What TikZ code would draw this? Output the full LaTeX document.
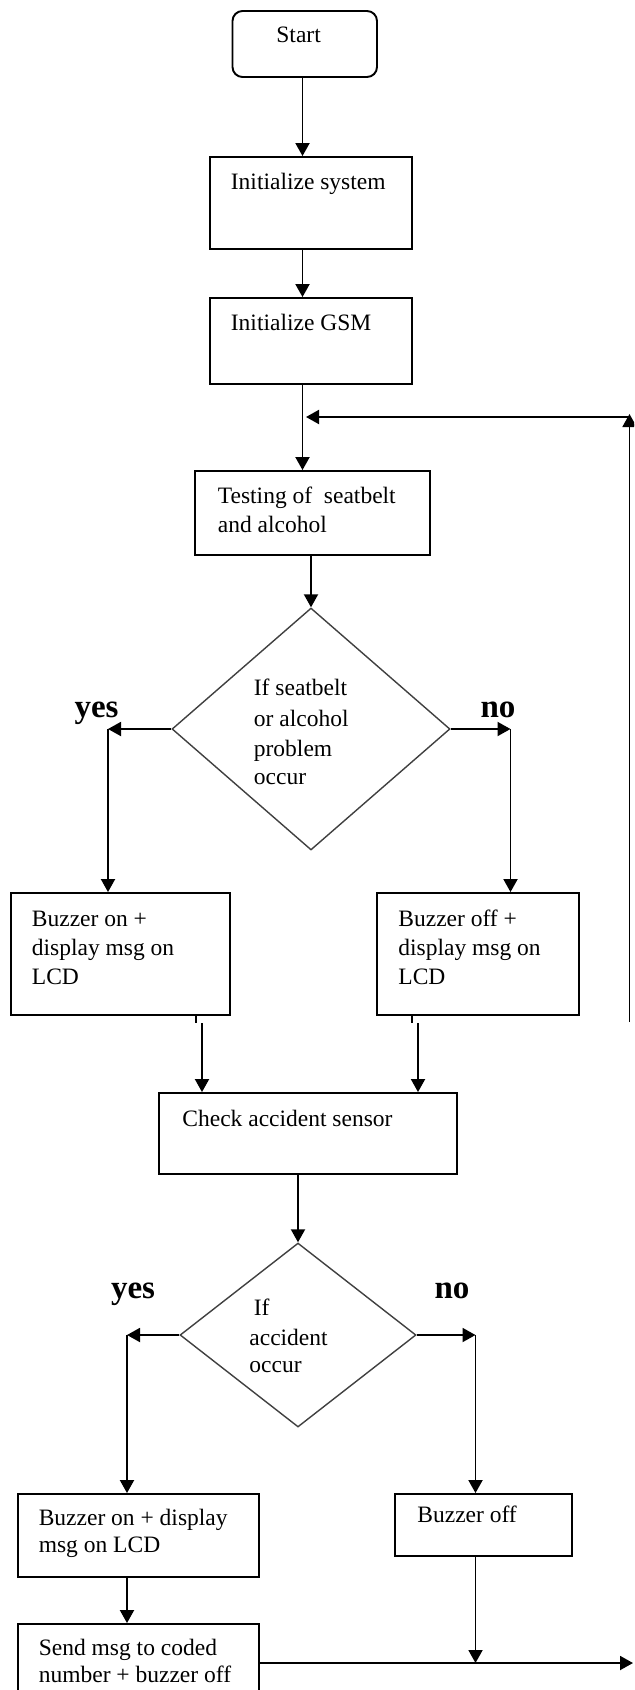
\documentclass[tikz,border=0pt]{standalone}
\usepackage{fontspec}
\setmainfont{Liberation Serif}
\usetikzlibrary{arrows.meta,shapes.geometric}
\begin{document}
\begin{tikzpicture}[x=0.5pt,y=-0.5pt,
  box/.style={draw=black, line width=0.95pt, rectangle, inner sep=0pt},
  sz/.style 2 args={minimum width=#1*0.5pt, minimum height=#2*0.5pt},
  dec/.style={draw=black!75, line width=0.7pt, diamond, inner sep=0pt},
  txt/.style={anchor=base west, inner sep=0pt, font=\fontsize{11.75}{14.5}\selectfont},
  lbl/.style={anchor=base, inner sep=0pt, font=\fontsize{16.5}{18}\selectfont\bfseries},
  arr/.style={draw=black, line width=0.95pt, -{Triangle[length=6.5pt,width=7pt]}},
  ln/.style={draw=black, line width=0.95pt}
]
\fill[white] (0,0) rectangle (634,1690);
\clip (0,0) rectangle (634,1690);
\useasboundingbox (0,0) rectangle (634,1690);

% boxes
\node[box, rounded corners=5pt, sz={144.5}{66}] (start) at (304.75,44) {};
\node[txt] (startT) at (276,43) {Start};
\node[box, sz={202}{92}] (sys) at (311,203) {};
\node[txt] (sysT) at (230.5,190) {Initialize system};
\node[box, sz={202}{86}] (gsm) at (311,341) {};
\node[txt] (gsmT) at (230.5,330) {Initialize GSM};
\node[box, sz={235}{84}] (test) at (312.5,513) {};
\node[txt] (testT1) at (217.5,503) {Testing of\ \ seatbelt};
\node[txt] (testT2) at (217.5,532) {and alcohol};

\node[dec, sz={278}{242}] (d1) at (311,729) {};
\node[txt] (d1T1) at (253.5,695) {If seatbelt};
\node[txt] (d1T2) at (253.5,726) {or alcohol};
\node[txt] (d1T3) at (253.5,756) {problem};
\node[txt] (d1T4) at (253.5,784) {occur};
\node[lbl] (yes1) at (96.5,717) {yes};
\node[lbl] (no1) at (498,717) {no};

\node[box, sz={219}{122}] (bon1) at (120.5,954) {};
\node[txt] (bon1T1) at (31.5,926) {Buzzer on +};
\node[txt] (bon1T2) at (31.5,955) {display msg on};
\node[txt] (bon1T3) at (31.5,984) {LCD};
\node[box, sz={202}{122}] (boff1) at (478,954) {};
\node[txt] (boff1T1) at (398,926) {Buzzer off +};
\node[txt] (boff1T2) at (398,955) {display msg on};
\node[txt] (boff1T3) at (398,984) {LCD};

\node[box, sz={298}{81}] (check) at (308,1133.5) {};
\node[txt] (checkT) at (182,1126) {Check accident sensor};

\node[dec, sz={236}{184}] (d2) at (298,1335) {};
\node[txt] (d2T1) at (253.5,1315) {If};
\node[txt] (d2T2) at (249,1345) {accident};
\node[txt] (d2T3) at (249,1372) {occur};
\node[lbl] (yes2) at (133,1298) {yes};
\node[lbl] (no2) at (452,1298) {no};

\node[box, sz={241}{83}] (bon2) at (138.5,1535.5) {};
\node[txt] (bon2T1) at (38.4,1525) {Buzzer on + display};
\node[txt] (bon2T2) at (38.4,1552) {msg on LCD};
\node[box, sz={177}{62}] (boff2) at (483.5,1525) {};
\node[txt] (boff2T) at (417,1522) {Buzzer off};
\node[box, sz={241}{96}] (send) at (138.5,1672) {};
\node[txt] (sendT1) at (38.4,1655) {Send msg to coded};
\node[txt] (sendT2) at (38.4,1682) {number + buzzer off};

% coordinates
\coordinate (c1) at (302.5,0);
\coordinate (fbB) at (629.5,1022);
\coordinate (fbT) at (629.5,414);
\coordinate (fbJ) at (306,417);
\coordinate (y1) at (108,0);
\coordinate (n1) at (510.5,0);
\coordinate (t1) at (196,0);
\coordinate (a1) at (202,1023);
\coordinate (t2) at (412,0);
\coordinate (a2) at (418,1023);
\coordinate (y2) at (127,0);
\coordinate (n2) at (475.5,0);
\coordinate (j) at (475.5,1663);
\coordinate (e) at (633,1663);

% connectors
\draw[arr] (c1 |- start.south) -- (c1 |- sys.north);
\draw[arr] (c1 |- sys.south) -- (c1 |- gsm.north);
\draw[arr] (c1 |- gsm.south) -- (c1 |- test.north);
\draw[arr] (d1.north |- test.south) -- (d1.north);
\draw[arr] (fbB) -- (fbT);
\draw[arr] (fbT |- fbJ) -- (fbJ);

\draw[arr] (d1.west) -- (y1 |- d1.west);
\draw[arr] (y1 |- d1.west) -- (y1 |- bon1.north);
\draw[arr] (d1.east) -- (n1 |- d1.east);
\draw[arr] (n1 |- d1.east) -- (n1 |- boff1.north);

\draw[ln] (t1 |- bon1.south) -- (t1 |- a1);
\draw[arr] (a1) -- (a1 |- check.north);
\draw[ln] (t2 |- boff1.south) -- (t2 |- a2);
\draw[arr] (a2) -- (a2 |- check.north);

\draw[arr] (d2.north |- check.south) -- (d2.north);
\draw[arr] (d2.west) -- (y2 |- d2.west);
\draw[arr] (y2 |- d2.west) -- (y2 |- bon2.north);
\draw[arr] (d2.east) -- (n2 |- d2.east);
\draw[arr] (n2 |- d2.east) -- (n2 |- boff2.north);
\draw[arr] (y2 |- bon2.south) -- (y2 |- send.north);
\draw[arr] (n2 |- boff2.south) -- (j);
\draw[arr] (send.east |- j) -- (e);
\end{tikzpicture}
\end{document}
